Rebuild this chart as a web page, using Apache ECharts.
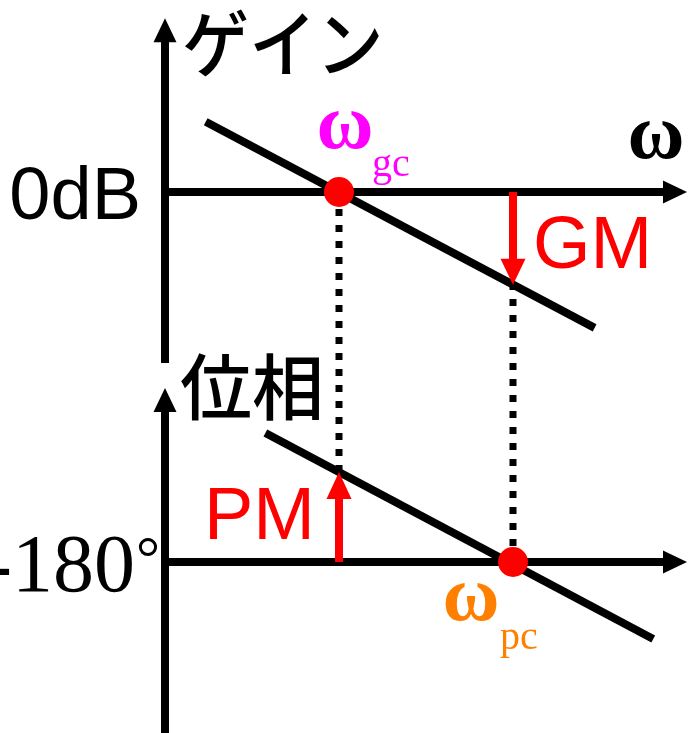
<!DOCTYPE html>
<html><head><meta charset="utf-8">
<script src="https://cdn.jsdelivr.net/npm/echarts@6/dist/echarts.min.js"></script>
<style>html,body{margin:0;padding:0;background:#fff}#c{width:690px;height:733px}</style>
</head><body><div id="c"></div>
<script>
// ---- schematic Bode diagram values ----
const omegaGc = 1;                 // gain crossover frequency
const omegaPc = 2;                 // phase crossover frequency
const gainRef = 0;                 // 0 dB
const phaseRef = -180;             // -180 deg
const gainLine = [[0.234, 7.8], [2.469, -15.1]];      // [omega, dB]
const phaseLine = [[0.577, -115.5], [2.806, -218.5]]; // [omega, deg]
const gainAtPc = -10.3;            // dB at omega_pc  (GM)
const phaseAtGc = -135;            // deg at omega_gc (PM)
const omegaAxisEnd = 3;
const gainAxisExtent = [-19, 19.3];
const phaseAxisExtent = [-265.5, -93];
// hidden value-axis ranges
const omegaRange = [0, 3];
const gainRange = [-60.111, 21.333];
const phaseRange = [-265.5, 101];

function gainToPhase(g) {
  const t = (gainRange[1] - g) / (gainRange[1] - gainRange[0]);
  return phaseRange[1] - t * (phaseRange[1] - phaseRange[0]);
}

function arrowRenderer(color, width, headW, headL) {
  return function (params, api) {
    const p1 = api.coord([api.value(0), api.value(1)]);
    const p2 = api.coord([api.value(2), api.value(3)]);
    const dx = p2[0] - p1[0], dy = p2[1] - p1[1];
    const len = Math.hypot(dx, dy), ux = dx / len, uy = dy / len;
    const bx = p2[0] - ux * headL, by = p2[1] - uy * headL;
    return {
      type: 'group',
      children: [
        { type: 'line', shape: { x1: p1[0], y1: p1[1], x2: bx + ux * 2, y2: by + uy * 2 },
          style: { stroke: color, lineWidth: width } },
        { type: 'polygon', shape: { points: [[p2[0], p2[1]],
            [bx - uy * headW / 2, by + ux * headW / 2],
            [bx + uy * headW / 2, by - ux * headW / 2]] },
          style: { fill: color } }
      ]
    };
  };
}

const chart = echarts.init(document.getElementById('c'), null, { renderer: 'canvas' });

const jp = '"Noto Sans CJK JP", sans-serif';
const sans = '"Liberation Sans", Arial, sans-serif';
const serif = '"Liberation Serif", "Times New Roman", serif';

function txt(text, x, y, font, fill, align, scaleX) {
  return { type: 'text', z: 100, x: x, y: y, scaleX: scaleX || 1,
    style: { text, x: 0, y: 0, font, fill: fill || '#000',
    align: align || 'left', textAlign: align || 'left', verticalAlign: 'middle', textVerticalAlign: 'middle' } };
}

chart.setOption({
  animation: false,
  backgroundColor: '#fff',
  grid: { left: 165, right: 3, top: 0, bottom: 0 },
  xAxis: { type: 'value', min: omegaRange[0], max: omegaRange[1], show: false },
  yAxis: [
    { type: 'value', min: gainRange[0], max: gainRange[1], show: false },
    { type: 'value', min: phaseRange[0], max: phaseRange[1], show: false }
  ],
  series: [
    // dotted guide lines
    { type: 'line', yAxisIndex: 1, symbol: 'none', z: 1,
      data: [[omegaGc, phaseAtGc], [omegaGc, gainToPhase(gainRef)]],
      lineStyle: { color: '#000', width: 7, type: [7, 9], cap: 'butt' } },
    { type: 'line', yAxisIndex: 1, symbol: 'none', z: 1,
      data: [[omegaPc, phaseRef], [omegaPc, gainToPhase(gainAtPc)]],
      lineStyle: { color: '#000', width: 7, type: [7, 9], cap: 'butt' } },
    // axes (gain)
    { type: 'custom', yAxisIndex: 0, z: 2, renderItem: arrowRenderer('#000', 8, 23, 24),
      encode: { x: [0, 2], y: [1, 3] },
      data: [[0, gainAxisExtent[0], 0, gainAxisExtent[1]], [0, gainRef, omegaAxisEnd, gainRef]] },
    // axes (phase)
    { type: 'custom', yAxisIndex: 1, z: 2, renderItem: arrowRenderer('#000', 8, 23, 24),
      encode: { x: [0, 2], y: [1, 3] },
      data: [[0, phaseAxisExtent[0], 0, phaseAxisExtent[1]], [0, phaseRef, omegaAxisEnd, phaseRef]] },
    // gain & phase curves
    { type: 'line', yAxisIndex: 0, symbol: 'none', z: 3, data: gainLine,
      lineStyle: { color: '#000', width: 8, cap: 'butt' } },
    { type: 'line', yAxisIndex: 1, symbol: 'none', z: 3, data: phaseLine,
      lineStyle: { color: '#000', width: 8, cap: 'butt' } },
    // GM / PM arrows
    { type: 'custom', yAxisIndex: 0, z: 4, renderItem: arrowRenderer('#ff0000', 8, 25, 26),
      encode: { x: [0, 2], y: [1, 3] },
      data: [[omegaPc, gainRef, omegaPc, gainAtPc]] },
    { type: 'custom', yAxisIndex: 1, z: 4, renderItem: arrowRenderer('#ff0000', 8, 25, 27),
      encode: { x: [0, 2], y: [1, 3] },
      data: [[omegaGc, phaseRef, omegaGc, phaseAtGc]] },
    // crossover points
    { type: 'scatter', yAxisIndex: 0, z: 5, symbolSize: 30,
      itemStyle: { color: '#ff0000', opacity: 1 }, emphasis: { disabled: true },
      data: [[omegaGc, gainRef]] },
    { type: 'scatter', yAxisIndex: 1, z: 5, symbolSize: 30,
      itemStyle: { color: '#ff0000', opacity: 1 }, emphasis: { disabled: true },
      data: [[omegaPc, phaseRef]] }
  ],
  graphic: [
    txt('ゲイン', 182, 43, '500 73px ' + jp, '#000', 'left', 0.92),
    txt('位相', 180, 387, '500 72px ' + jp),
    txt('0dB', 141, 199, '74px ' + sans, '#000', 'right'),
    txt('-180', 135, 569, '82px ' + serif, '#000', 'right'),
    txt('°', 136, 562, '60px ' + serif, '#000', 'left'),
    txt('ω', 656, 138, 'bold 78px ' + serif, '#000', 'center'),
    txt('GM', 533, 248, '74px ' + sans, '#ff0000'),
    txt('PM', 204, 519, '74px ' + sans, '#ff0000'),
    txt('ω', 345, 128, 'bold 78px ' + serif, '#ff00ff', 'center'),
    txt('gc', 372, 165, '40px ' + serif, '#ff00ff'),
    txt('ω', 471, 600, 'bold 78px ' + serif, '#ff8000', 'center'),
    txt('pc', 500, 638, '40px ' + serif, '#ff8000')
  ]
});
</script>
</body></html>
